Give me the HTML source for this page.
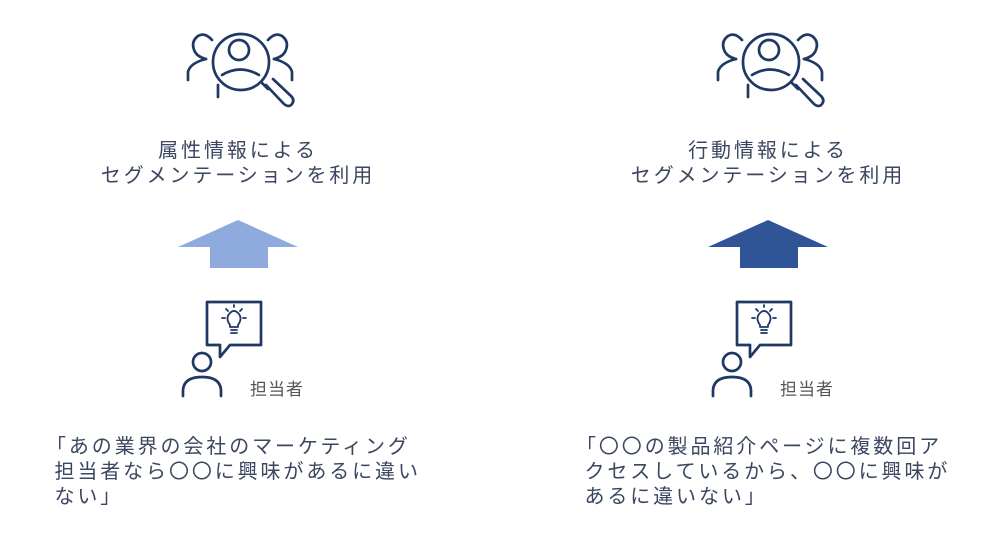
<!DOCTYPE html>
<html><head><meta charset="utf-8"><style>
body{margin:0;width:1000px;height:535px;background:#fff;position:relative;overflow:hidden;font-family:"Liberation Sans","Noto Sans CJK JP",sans-serif;}
.t{position:absolute;color:#3b4660;font-size:20px;letter-spacing:2.9px;line-height:25px;white-space:nowrap;}
.c{text-align:center;width:400px;}
svg{position:absolute;left:0;top:0;}
</style></head><body>
<svg width="1000" height="535" viewBox="0 0 1000 535">
<defs>
<g id="search" fill="none" stroke="#1f3864" stroke-width="2.7" stroke-linecap="round">
  <circle cx="241" cy="62" r="28"/>
  <circle cx="239" cy="50" r="10"/>
  <path d="M222 75 Q240 64 259 75"/>
  <path d="M261 82 L268 89"/>
  <path d="M266 85 L284 104 Q289 108 292 104 Q295 100 291 96 L273 79"/>
  <path d="M212 40 Q205 32 198 36 Q190 42 195 52 Q198 57 206 59"/>
  <path d="M188 80 L188 72 Q190 63 206 59"/>
  <path d="M268 40 Q275 32 282 36 Q290 42 285 52 Q282 57 274 59"/>
  <path d="M292 80 L292 72 Q290 63 274 59"/>
  <path d="M218 85 L218 97"/>
</g>
<g id="person" fill="none" stroke="#1f3864" stroke-width="2.7" stroke-linejoin="round" stroke-linecap="round">
  <path d="M220 357 L220 345 L207 345 L207 302 L261 302 L261 345 L230 345 Z"/>
  <circle cx="202" cy="362" r="9"/>
  <path d="M183 396 L183 390 Q184 377 202 377 Q220 377 221 390 L221 396"/>
  <g stroke-width="1.8">
  <path d="M230 325 Q225 318 230 313 Q234 309 238 313 Q243 318 238 325 L238 327 L230 327 Z"/>
  <path d="M231 330 L237 330 M231 333 L237 333"/>
  <path d="M234 305 L234 307 M226 309 L228 311 M242 309 L240 311 M222 318 L225 318 M243 318 L246 318"/>
  </g>
</g>
</defs>
<use href="#search"/>
<use href="#search" transform="translate(530 0)"/>
<use href="#person"/>
<use href="#person" transform="translate(530 0)"/>
<polygon points="238,220 298,247 268,247 268,268 210,268 210,247 178,247" fill="#8faadc"/>
<polygon points="768,220 828,247 798,247 798,268 740,268 740,247 708,247" fill="#2f5597"/>
</svg>
<div class="t c" style="left:38px;top:139px;">属性情報による<br>セグメンテーションを利用</div>
<div class="t c" style="left:568px;top:139px;">行動情報による<br>セグメンテーションを利用</div>
<div class="t" style="left:250px;top:377px;font-size:17px;letter-spacing:1px;color:#555;">担当者</div>
<div class="t" style="left:780px;top:377px;font-size:17px;letter-spacing:1px;color:#555;">担当者</div>
<div class="t" style="left:46px;top:435px;">「あの業界の会社のマーケティング<br>&nbsp;担当者なら〇〇に興味があるに違い<br>&nbsp;ない」</div>
<div class="t" style="left:576px;top:435px;">「〇〇の製品紹介ページに複数回ア<br>&nbsp;クセスしているから、〇〇に興味が<br>&nbsp;あるに違いない」</div>
</body></html>
